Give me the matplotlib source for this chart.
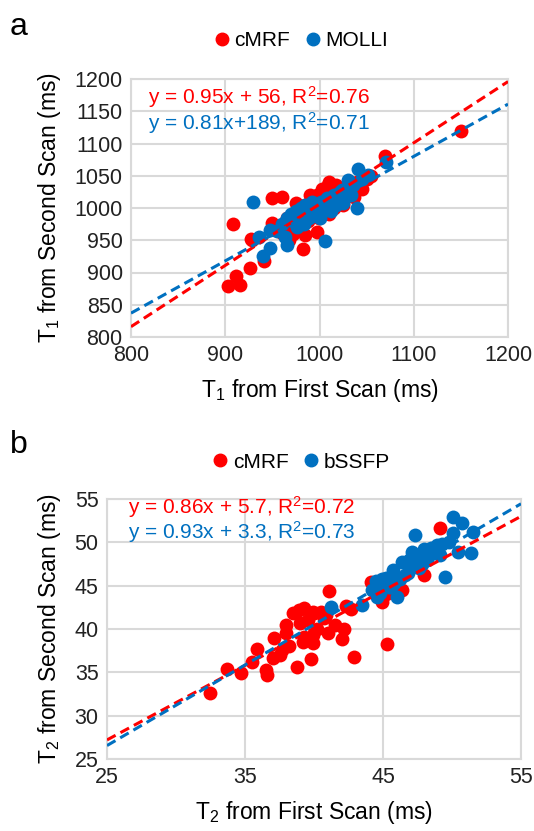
import matplotlib
matplotlib.use("Agg")
import matplotlib.pyplot as plt
import numpy as np
from matplotlib.lines import Line2D

plt.rcParams['font.family'] = ['Liberation Sans', 'DejaVu Sans']
plt.rcParams['mathtext.fontset'] = 'custom'
plt.rcParams['mathtext.rm'] = 'Liberation Sans'
plt.rcParams['mathtext.it'] = 'Liberation Sans:italic'

RED = '#FF0000'
BLUE = '#0070C0'
GRID = '#D9D9D9'

# ---------------- Panel a data (T1, ms) ----------------
t1_cmrf_x = [1150, 1069, 908, 950, 960, 928, 941, 926, 911, 903, 916, 950, 982, 997, 927,
             1037, 1009, 1014, 1018,
             965, 970, 975, 978, 980, 983, 985, 988, 990, 992, 995, 997, 999, 1000, 1002,
             1005, 1006, 1008, 1010, 1012, 1015, 1018, 1020, 1022, 1025, 1028, 1030, 1032,
             1035, 1040, 1045, 1050, 1055, 972, 968, 960, 985, 990, 1003, 1010, 975]
t1_cmrf_y = [1120, 1081, 975, 1015, 1017, 950, 918, 907, 894, 879, 881, 977, 936, 963, 952,
             1017, 1036, 1025, 1008,
             985, 975, 990, 1000, 970, 995, 1005, 980, 1010, 990, 1000, 1020, 985, 1010, 995,
             1025, 1005, 1015, 990, 1030, 1000, 1035, 1015, 1025, 1005, 1030, 1020, 1035,
             1025, 1040, 1030, 1045, 1050, 960, 950, 962, 958, 1020, 1030, 1040, 1008]

t1_molli_x = [929, 936, 948, 940, 948, 966, 1006, 1071, 1041, 1051, 1030, 1040, 1024,
              960, 965, 970, 972, 975, 978, 980, 982, 985, 987, 989, 990, 992, 994, 996,
              998, 1000, 1002, 1004, 1006, 1008, 1010, 1012, 1015, 1018, 1020, 1022, 1026,
              1030, 1033, 1036, 1045, 955, 963, 976, 984, 1000, 1012, 1025]
t1_molli_y = [1009, 955, 966, 926, 938, 943, 949, 1071, 1060, 1051, 1043, 1000, 1028,
              975, 985, 990, 980, 995, 985, 1000, 990, 1005, 995, 985, 1000, 1010, 995, 1005,
              990, 1000, 1010, 995, 1005, 1015, 1000, 1010, 1020, 1005, 1015, 1025, 1015,
              1030, 1020, 1035, 1045, 965, 955, 970, 975, 985, 995, 1008]

t1_fit_cmrf = (0.95, 56)
t1_fit_molli = (0.81, 189)
t1_eq_cmrf = "y = 0.95x + 56, R$^2$=0.76"
t1_eq_molli = "y = 0.81x+189, R$^2$=0.71"
t1_ticks = [800, 850, 900, 950, 1000, 1050, 1100, 1150, 1200]
t1_xticks = [800, 900, 1000, 1100, 1200]

# ---------------- Panel b data (T2, ms) ----------------
t2_cmrf_x = [32.5, 33.7, 34.7, 35.5, 35.9, 36.5, 36.6, 37.1, 37.0, 37.5, 37.7, 38.0, 38.0,
             38.5, 38.9, 39.3, 39.9, 39.0, 39.6, 39.3, 39.2, 39.9, 39.9, 38.8, 39.8, 40.7,
             40.9, 41.1, 40.2, 40.5, 41.5, 42.0, 42.3, 42.7, 42.2, 42.9, 45.3, 44.1, 44.9,
             45.2, 46.4, 48.0, 49.1, 44.5, 38.2, 40.0, 41.0]
t2_cmrf_y = [32.6, 35.4, 34.9, 36.2, 37.7, 35.3, 34.7, 39.0, 36.6, 37.0, 37.6, 40.5, 39.5,
             41.8, 42.2, 42.4, 42.0, 40.7, 41.0, 39.1, 38.5, 39.3, 38.4, 35.6, 36.5, 41.3,
             41.6, 44.4, 40.0, 42.0, 40.5, 38.8, 42.6, 42.3, 40.0, 36.8, 38.3, 45.4, 43.1,
             44.0, 44.5, 46.2, 51.6, 44.5, 38.0, 41.8, 39.5]

t2_bssfp_x = [41.2, 43.5, 44.2, 44.5, 44.8, 45.0, 45.2, 45.4, 44.6, 45.8, 46.0, 45.7, 46.4,
              46.2, 46.8, 47.0, 47.3, 47.1, 47.5, 47.8, 48.2, 48.5, 48.9, 49.1, 49.5, 49.3,
              48.7, 50.1, 50.7, 50.1, 51.5, 51.4, 50.4, 49.8, 47.6, 46.6, 45.6, 44.9, 48.0,
              46.9]
t2_bssfp_y = [42.5, 42.8, 44.5, 45.5, 44.2, 45.0, 45.9, 44.8, 43.7, 45.3, 43.7, 46.8, 47.7,
              45.8, 46.5, 47.2, 50.8, 48.9, 48.5, 47.5, 48.0, 49.3, 49.7, 48.5, 46.0, 49.8,
              48.8, 52.9, 52.2, 51.1, 51.2, 48.8, 48.9, 50.0, 47.0, 46.2, 44.9, 45.8, 49.2,
              48.0]

t2_fit_cmrf = (0.86, 5.7)
t2_fit_bssfp = (0.93, 3.3)
t2_eq_cmrf = "y = 0.86x + 5.7, R$^2$=0.72"
t2_eq_bssfp = "y = 0.93x + 3.3, R$^2$=0.73"
t2_ticks = [25, 30, 35, 40, 45, 50, 55]
t2_xticks = [25, 35, 45, 55]

W, H = 534, 831
fig = plt.figure(figsize=(W / 100, H / 100), dpi=100)


def px_axes(l, t, r, b):
    return fig.add_axes([l / W, 1 - b / H, (r - l) / W, (b - t) / H])


def style(ax, xlim, ylim, xt, yt):
    ax.set_xlim(*xlim)
    ax.set_ylim(*ylim)
    ax.set_xticks(xt)
    ax.set_yticks(yt)
    ax.grid(True, color=GRID, lw=1.5)
    ax.set_axisbelow(True)
    for s in ax.spines.values():
        s.set_color(GRID)
        s.set_linewidth(1.5)
    ax.tick_params(length=0, labelsize=15.5, pad=6, colors='#222222')


def fitline(ax, fit, xlim, color):
    xs = np.array(xlim, dtype=float)
    ax.plot(xs, fit[0] * xs + fit[1], ls=(0, (3.2, 1.8)), color=color, lw=2.2, zorder=5)


MS = 100

# Panel a
axa = px_axes(131, 79, 508, 337)
style(axa, (800, 1200), (800, 1200), t1_xticks, t1_ticks)
axa.scatter(t1_cmrf_x, t1_cmrf_y, s=MS, color=RED, zorder=3, linewidths=0)
axa.scatter(t1_molli_x, t1_molli_y, s=MS, color=BLUE, zorder=4, linewidths=0)
fitline(axa, t1_fit_cmrf, (800, 1200), RED)
fitline(axa, t1_fit_molli, (800, 1200), BLUE)
axa.text(818, 1172, t1_eq_cmrf, color=RED, fontsize=15, va='center', ha='left', zorder=6)
axa.text(818, 1132, t1_eq_molli, color=BLUE, fontsize=15, va='center', ha='left', zorder=6)
axa.set_xlabel("T$_1$ from First Scan (ms)", fontsize=16.5, labelpad=8)
axa.set_ylabel("T$_1$ from Second Scan (ms)", fontsize=16.5, labelpad=8)

# Panel b
axb = px_axes(107, 499, 521, 759)
style(axb, (25, 55), (25, 55), t2_xticks, t2_ticks)
axb.scatter(t2_cmrf_x, t2_cmrf_y, s=MS, color=RED, zorder=3, linewidths=0)
axb.scatter(t2_bssfp_x, t2_bssfp_y, s=MS, color=BLUE, zorder=4, linewidths=0)
fitline(axb, t2_fit_cmrf, (25, 55), RED)
fitline(axb, t2_fit_bssfp, (25, 55), BLUE)
axb.text(26.5, 54.1, t2_eq_cmrf, color=RED, fontsize=15, va='center', ha='left', zorder=6)
axb.text(26.5, 51.2, t2_eq_bssfp, color=BLUE, fontsize=15, va='center', ha='left', zorder=6)
axb.set_xlabel("T$_2$ from First Scan (ms)", fontsize=16.5, labelpad=8)
axb.set_ylabel("T$_2$ from Second Scan (ms)", fontsize=16.5, labelpad=8)


def legend(labels, y):
    handles = [Line2D([], [], ls='none', marker='o', markersize=9, color=RED),
               Line2D([], [], ls='none', marker='o', markersize=9, color=BLUE)]
    fig.legend(handles, labels, loc='center', bbox_to_anchor=(300 / W, 1 - y / H),
               ncol=2, frameon=False, fontsize=15, handletextpad=0.1,
               columnspacing=0.6, handlelength=1.0)


legend(["cMRF", "MOLLI"], 41)
legend(["cMRF", "bSSFP"], 462)

fig.text(10 / W, 1 - 27 / H, "a", fontsize=23, va='center', ha='left')
fig.text(10 / W, 1 - 445 / H, "b", fontsize=23, va='center', ha='left')

fig.savefig("out.png", dpi=100)
